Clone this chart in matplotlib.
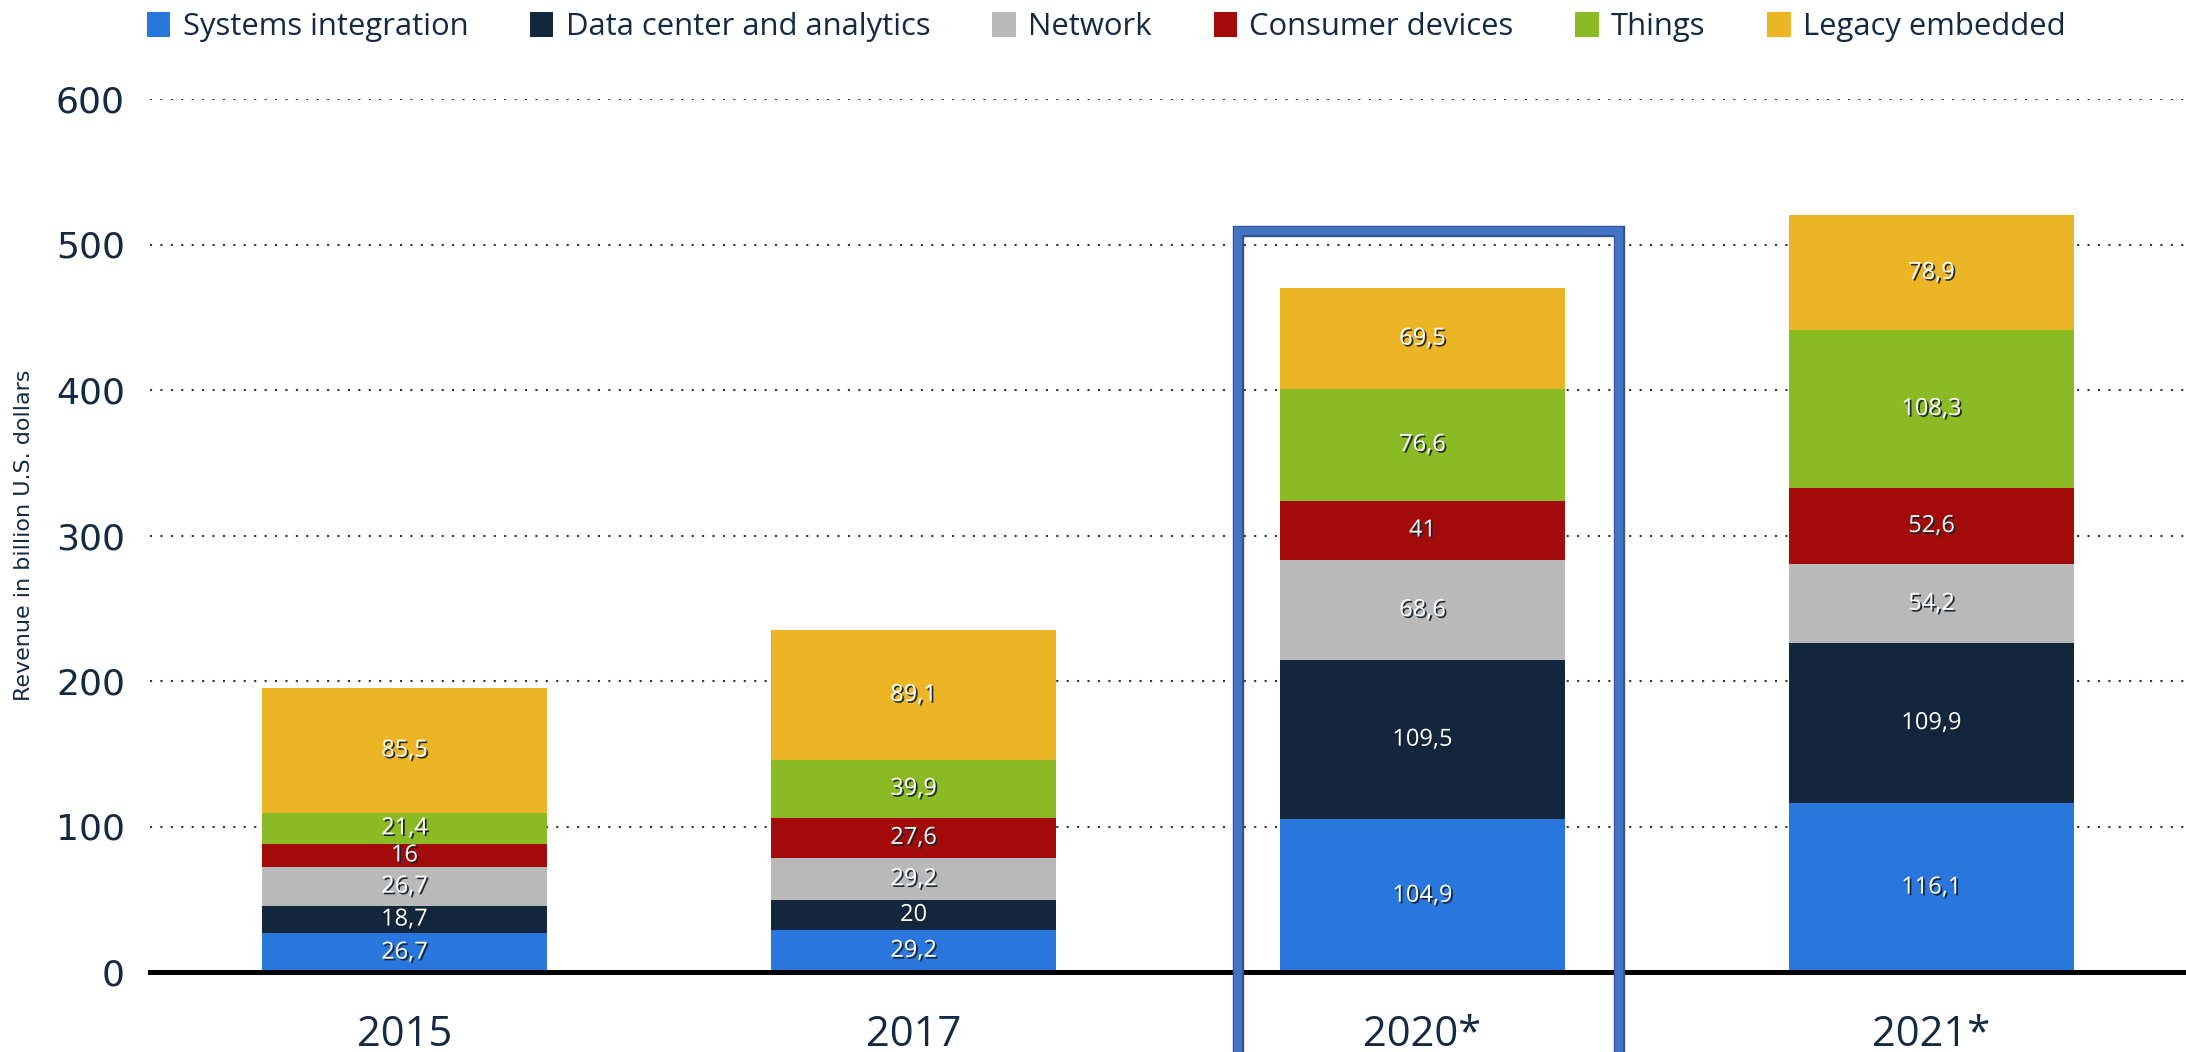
import matplotlib
matplotlib.use("Agg")
import matplotlib.pyplot as plt
import matplotlib.patheffects as pe
from matplotlib.patches import Rectangle, Patch
import numpy as np

# ---- data ----
years = ["2015", "2017", "2020*", "2021*"]
segments = ["Systems integration", "Data center and analytics", "Network",
            "Consumer devices", "Things", "Legacy embedded"]
systems_integration = [26.7, 29.2, 104.9, 116.1]
data_center = [18.7, 20.0, 109.5, 109.9]
network = [26.7, 29.2, 68.6, 54.2]
consumer_devices = [16.0, 27.6, 41.0, 52.6]
things = [21.4, 39.9, 76.6, 108.3]
legacy_embedded = [85.5, 89.1, 69.5, 78.9]
y_ticks = [0, 100, 200, 300, 400, 500, 600]
highlight_year = "2020*"
highlight_top = 509

series = [systems_integration, data_center, network, consumer_devices, things, legacy_embedded]
colors = ["#2976dc", "#12263e", "#b9b9b9", "#a30b0b", "#8abb25", "#ecb526"]
navy = "#132a43"

W, H = 2186, 1052
fig = plt.figure(figsize=(W / 100, H / 100), dpi=100)
ax = fig.add_axes([150 / W, 1 - 972 / H, 1 - 150 / W, (972 - 99) / H])

x = np.arange(len(years))
bottom = np.zeros(len(years))
bar_w = 0.56
shadow = [pe.withSimplePatchShadow(offset=(1.3, -1.3), shadow_rgbFace="#17222e", alpha=0.95)]

def fmt(v):
    s = f"{v:g}"
    return s.replace(".", ",")

for name, vals, c in zip(segments, series, colors):
    vals = np.array(vals)
    ax.bar(x, vals, width=bar_w, bottom=bottom, color=c, zorder=3, label=name, linewidth=0)
    for xi, b, v in zip(x, bottom, vals):
        ax.text(xi, b + v / 2, fmt(v), ha="center", va="center", color="white",
                fontsize=17, family=["Open Sans", "DejaVu Sans"], zorder=6,
                path_effects=shadow)
    bottom = bottom + vals

ax.set_xlim(-0.5, len(years) - 0.5)
ax.set_ylim(0, 600)
ax.set_yticks(y_ticks)
ax.set_xticks(x)
ax.set_xticklabels(years)
for s in ax.spines.values():
    s.set_visible(False)
ax.yaxis.grid(True, linestyle=(0, (1, 4)), linewidth=1.5, color="#333333")
ax.set_axisbelow(True)
ax.axhline(0, color="black", linewidth=3.6, zorder=5, clip_on=False)

ax.tick_params(axis="y", length=0, pad=18, labelsize=26, labelcolor=navy)
ax.tick_params(axis="x", length=0, pad=30, labelsize=30, labelcolor=navy)
for t in ax.get_xticklabels():
    t.set_family(["Open Sans", "DejaVu Sans"])

ax.set_ylabel("Revenue in billion U.S. dollars", fontsize=16, color=navy,
              family=["DejaVu Sans"])
ax.yaxis.set_label_coords(-0.057, 0.5)

# highlight rectangle around the 2020* bar
hi = years.index(highlight_year)
for lw, col in [(8.2, "#2f528f"), (6.0, "#4472c4")]:
    ax.add_patch(Rectangle((hi - 0.363, -80), 0.75, highlight_top + 80, fill=False,
                           edgecolor=col, linewidth=lw, zorder=7, clip_on=False))

handles = [Patch(facecolor=c, edgecolor="none") for c in colors]
leg = fig.legend(handles, segments, loc="center left", bbox_to_anchor=(147 / W, 1 - 27 / H),
                 ncol=6, frameon=False, handlelength=0.75, handleheight=0.9,
                 handletextpad=0.4, columnspacing=2.0, borderaxespad=0, borderpad=0,
                 prop={"family": ["Open Sans", "DejaVu Sans"], "size": 22.3})
for t in leg.get_texts():
    t.set_color(navy)

fig.savefig("out.png", dpi=100)
